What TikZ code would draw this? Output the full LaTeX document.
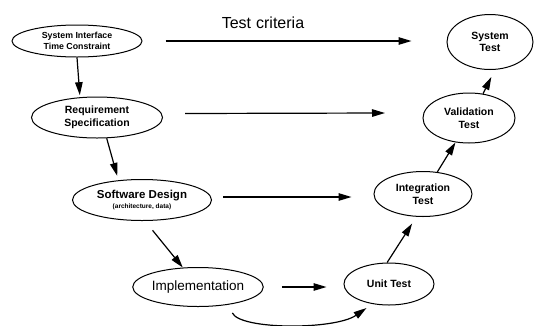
\documentclass[tikz,border=0pt]{standalone}
\usepackage{fontspec}
\setmainfont{Liberation Sans}
\usetikzlibrary{arrows.meta,shapes.geometric}
\begin{document}
\begin{tikzpicture}[x=1pt,y=-1pt,
  phase/.style={draw,ellipse,line width=1pt,inner sep=0pt,align=center,
    font=\bfseries\fontsize{10.5}{12.5}\selectfont},
  arr/.style={line width=1.2pt,-{Triangle[length=13pt,width=7.5pt]}}]
\useasboundingbox (0,0) rectangle (536,325);
\node[phase,minimum width=130pt,minimum height=32pt,font=\bfseries\fontsize{8.8}{11.5}\selectfont] (si) at (77,41) {System Interface\\Time Constraint};
\node[phase,minimum width=131pt,minimum height=41pt] (req) at (97,117.5) {Requirement\\Specification};
\node[phase,minimum width=139pt,minimum height=41pt,font=\bfseries\fontsize{11.5}{11}\selectfont] (sw) at (142,200) {Software Design\\[-1pt]{\fontsize{6.5}{7}\selectfont(architecture, data)}};
\node[phase,minimum width=120pt,minimum height=39pt,font=\fontsize{13.5}{15}\selectfont] (impl) at (198,287) {Implementation};
\node[phase,minimum width=90pt,minimum height=42pt] (unit) at (389,284) {Unit Test};
\node[phase,minimum width=98pt,minimum height=45pt] (integ) at (423,194) {Integration\\Test};
\node[phase,minimum width=92pt,minimum height=50pt] (valid) at (469,118) {Validation\\Test};
\node[phase,minimum width=86pt,minimum height=55pt] (sys) at (490,42) {System\\Test};
\node[font=\fontsize{16}{18}\selectfont] (tc) at (263,23) {Test\hspace{5pt}criteria};
% vertical flow
\draw[arr,shorten >=2pt] (si.south) -- (req.130);
\draw[arr,shorten >=4.5pt] (req.-65) -- (sw.140);
\draw[arr,shorten <=12pt] (sw.-82) -- (impl.128);
\draw[arr,shorten <=9pt,shorten >=7pt] (impl.-30) .. controls (240,330) and (335,330) .. (unit.-130);
\draw[arr,shorten >=8pt] (unit.95) -- (integ.-106);
\draw[arr] (integ.57) -- (valid.-119);
\draw[arr,shorten >=8pt] (valid.60) -- (sys.-80);
% test criteria arrows
\draw[arr,shorten <=23pt,shorten >=35pt] (si.east) -- (si.east -| sys.west);
\coordinate (reqend) at (385,113);
\draw[arr] ([shift={(22,-4)}]req.east) -- (reqend);
\draw[arr,shorten <=11pt,shorten >=22pt] ([yshift=3pt]sw.east) -- ([yshift=3pt]sw.east -| integ.west);
\draw[arr,shorten <=18pt,shorten >=17pt] (impl.east) -- (impl.east -| unit.west);
\end{tikzpicture}
\end{document}
